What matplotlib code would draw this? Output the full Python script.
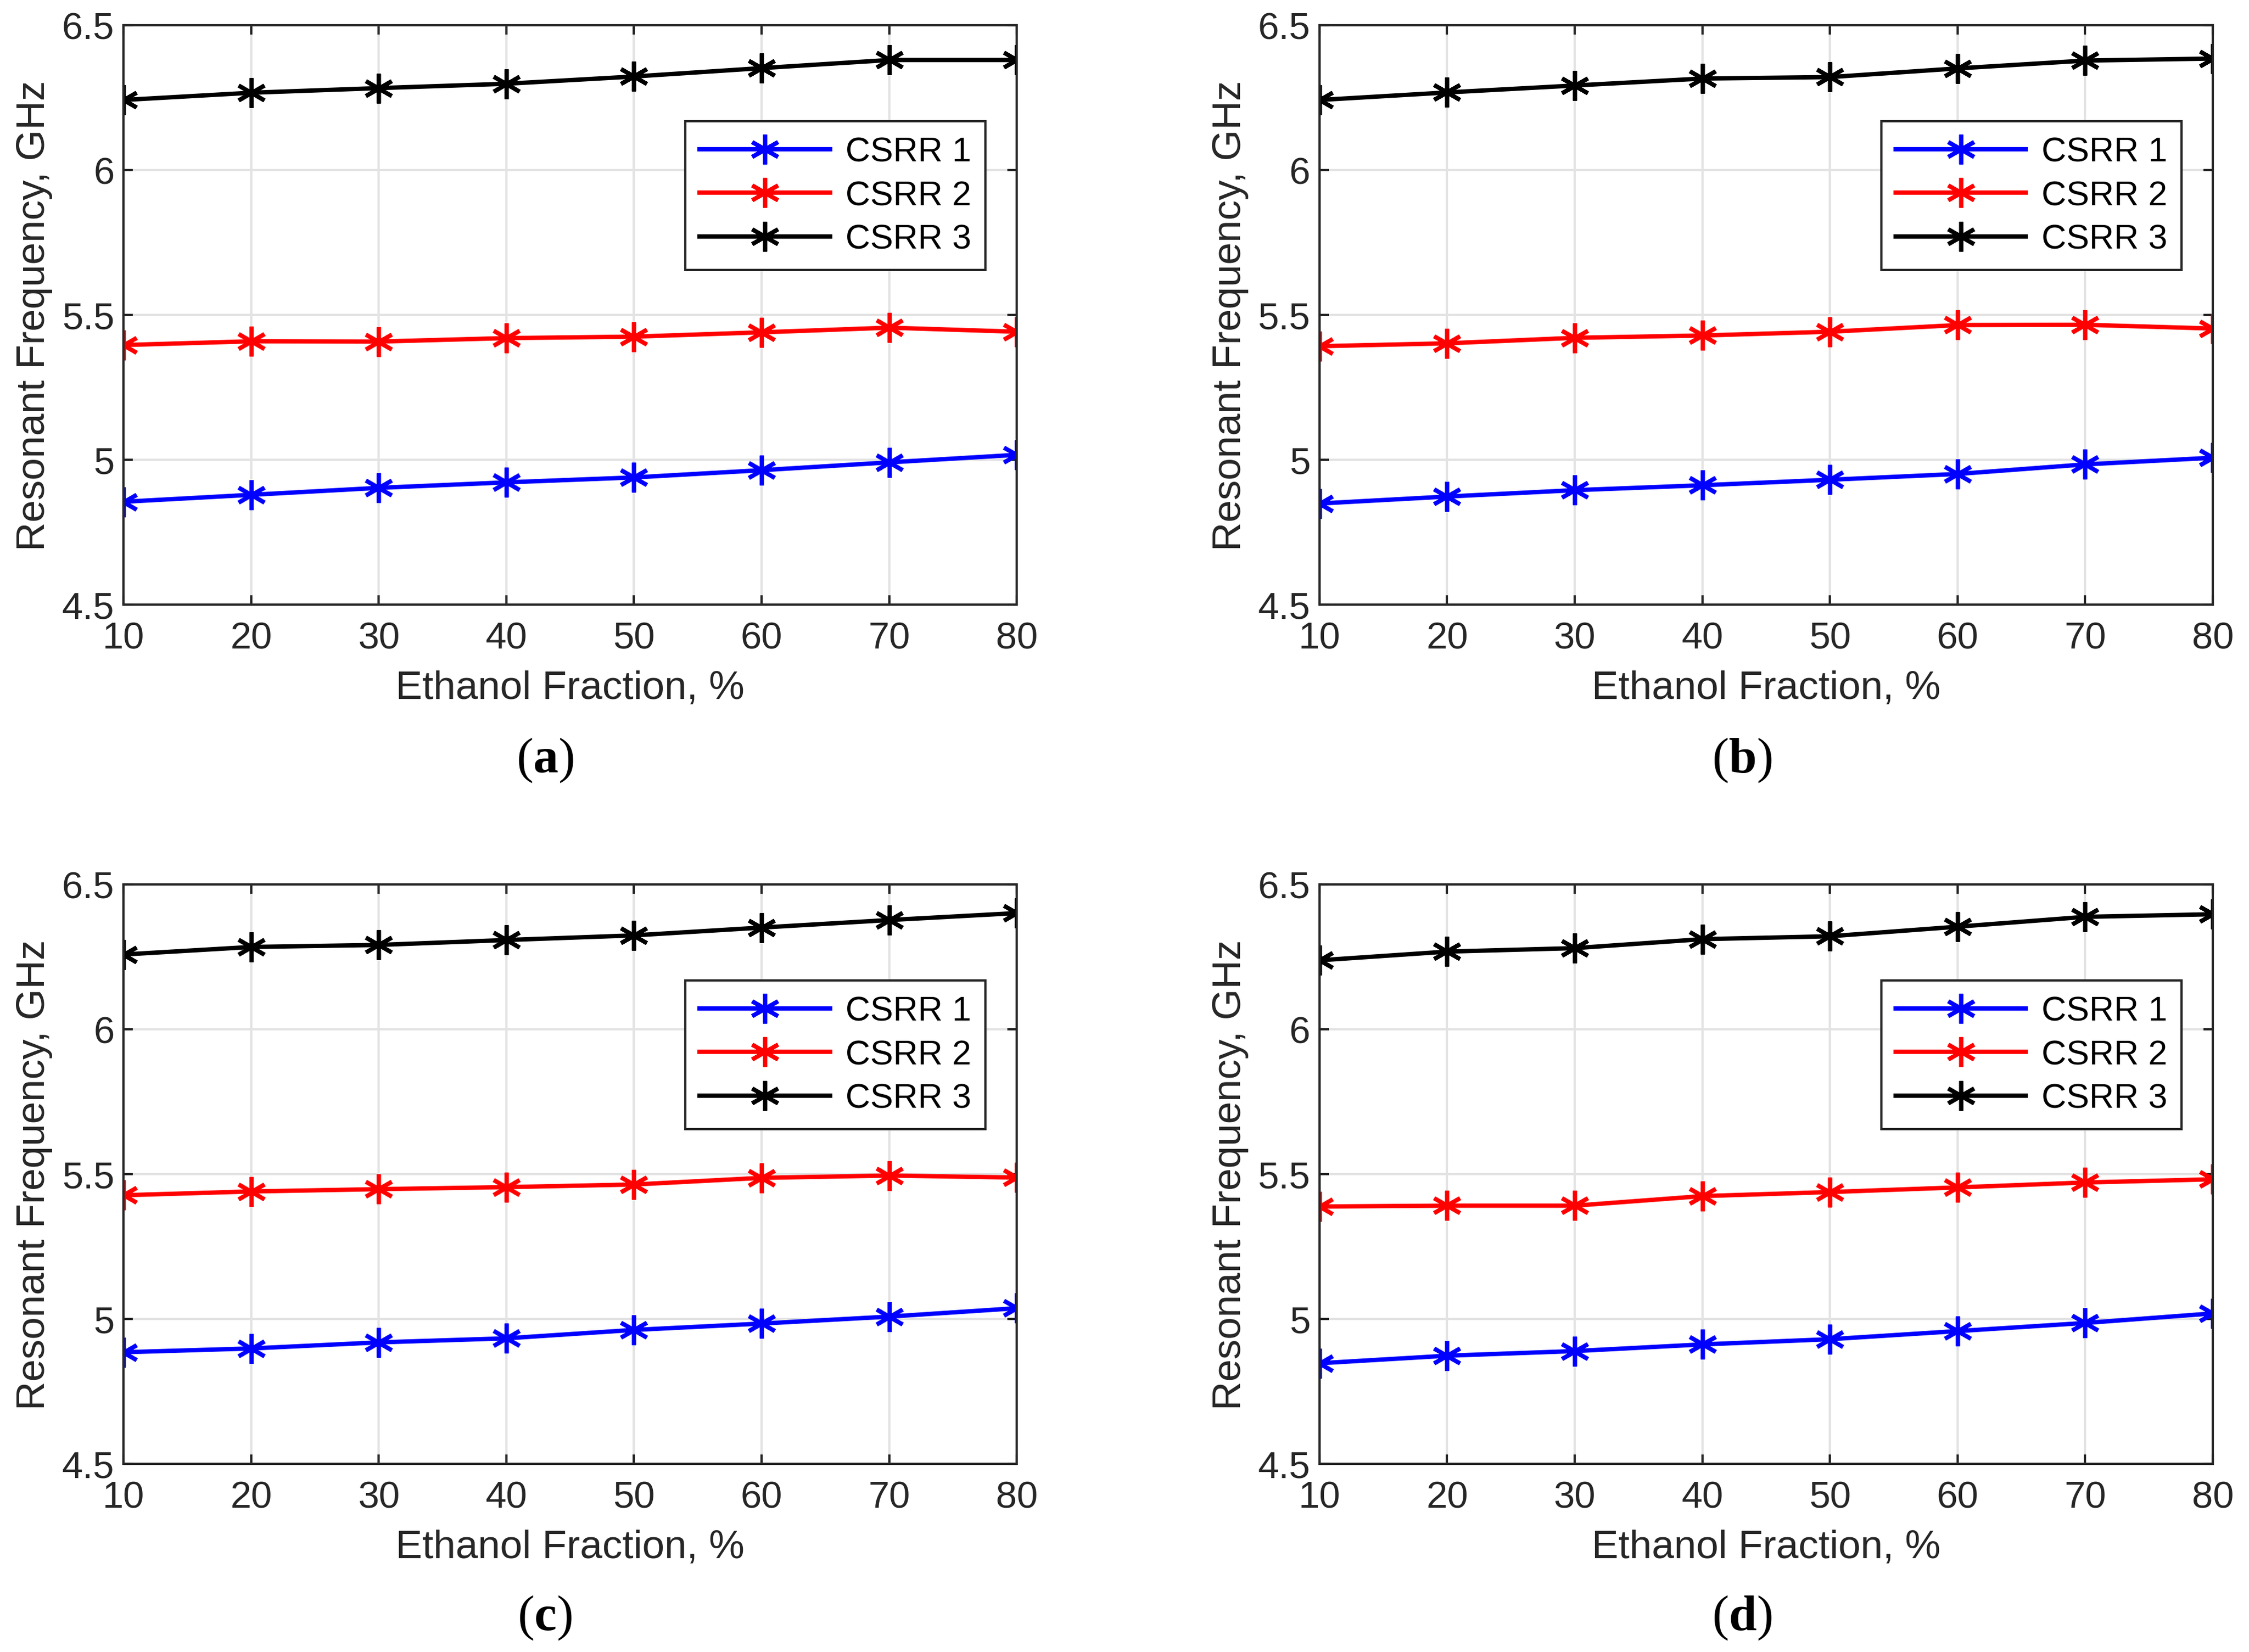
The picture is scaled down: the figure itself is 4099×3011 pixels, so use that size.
#!/usr/bin/env python3
"""Resonant frequency of three CSRRs vs. ethanol fraction, four panels (a)-(d)."""

import matplotlib
matplotlib.use("Agg")
import matplotlib.pyplot as plt

# ethanol fraction, %
FRACTION = [10, 20, 30, 40, 50, 60, 70, 80]

# resonant frequency, GHz
A_CSRR1 = [4.855, 4.879, 4.903, 4.922, 4.939, 4.964, 4.991, 5.017]
A_CSRR2 = [5.396, 5.409, 5.408, 5.420, 5.425, 5.440, 5.456, 5.442]
A_CSRR3 = [6.242, 6.267, 6.283, 6.298, 6.323, 6.352, 6.380, 6.380]

B_CSRR1 = [4.849, 4.873, 4.895, 4.912, 4.931, 4.951, 4.984, 5.007]
B_CSRR2 = [5.392, 5.402, 5.421, 5.429, 5.442, 5.465, 5.466, 5.453]
B_CSRR3 = [6.242, 6.268, 6.292, 6.316, 6.321, 6.351, 6.378, 6.385]

C_CSRR1 = [4.885, 4.898, 4.919, 4.933, 4.962, 4.984, 5.008, 5.037]
C_CSRR2 = [5.427, 5.440, 5.448, 5.455, 5.464, 5.487, 5.495, 5.488]
C_CSRR3 = [6.258, 6.284, 6.291, 6.308, 6.324, 6.351, 6.377, 6.401]

D_CSRR1 = [4.847, 4.873, 4.889, 4.912, 4.930, 4.958, 4.986, 5.019]
D_CSRR2 = [5.388, 5.391, 5.391, 5.424, 5.438, 5.454, 5.471, 5.482]
D_CSRR3 = [6.238, 6.268, 6.280, 6.311, 6.321, 6.354, 6.388, 6.397]

SERIES_NAMES = ["CSRR 1", "CSRR 2", "CSRR 3"]
PANEL_TAGS = ["a", "b", "c", "d"]
YTICKS = [4.5, 5.0, 5.5, 6.0, 6.5]
YTICK_LABELS = ["4.5", "5", "5.5", "6", "6.5"]

PANELS = [
    (A_CSRR1, A_CSRR2, A_CSRR3),
    (B_CSRR1, B_CSRR2, B_CSRR3),
    (C_CSRR1, C_CSRR2, C_CSRR3),
    (D_CSRR1, D_CSRR2, D_CSRR3),
]

COLORS = ["#0000ff", "#ff0000", "#000000"]
AX_COLOR = "#262626"

plt.rcParams["font.family"] = ["Liberation Sans", "DejaVu Sans"]
plt.rcParams["mathtext.fontset"] = "custom"
plt.rcParams["mathtext.rm"] = "Liberation Serif"
plt.rcParams["mathtext.bf"] = "Liberation Serif:bold"

fig = plt.figure(figsize=(4099 / 300, 3012 / 300), dpi=300)

# axes boxes in figure fractions
lefts = [0.0549, 0.5867, 0.0549, 0.5867]
bottoms = [0.6338, 0.6338, 0.1139, 0.1139]
width, height = 0.3972, 0.3506
tag_x = [0.2423, 0.7745, 0.2423, 0.7745]
tag_y = [0.540, 0.540, 0.021, 0.021]

asterisk = (6, 2, 0)

for i, series in enumerate(PANELS):
    ax = fig.add_axes([lefts[i], bottoms[i], width, height])
    for vals, name, col in zip(series, SERIES_NAMES, COLORS):
        ax.plot(FRACTION, vals, color=col, linewidth=1.9, marker=asterisk,
                markersize=13, markeredgewidth=1.8, label=name)

    ax.set_xlim(10, 80)
    ax.set_ylim(4.5, 6.5)
    ax.set_xticks(FRACTION)
    ax.set_yticks(YTICKS)
    ax.set_yticklabels(YTICK_LABELS)
    ax.grid(True, color="#e3e3e3", linewidth=1.0)
    ax.set_axisbelow(True)
    for sp in ax.spines.values():
        sp.set_color(AX_COLOR)
        sp.set_linewidth(1.0)
    ax.tick_params(direction="in", length=4, width=1.0, colors=AX_COLOR,
                   labelsize=16.5, top=True, right=True)
    ax.tick_params(axis="x", pad=7)
    ax.tick_params(axis="y", pad=4)
    ax.set_xlabel("Ethanol Fraction, %", fontsize=17.5, color=AX_COLOR, labelpad=6)
    ax.set_ylabel("Resonant Frequency, GHz", fontsize=17.5, color=AX_COLOR, labelpad=4)

    leg = ax.legend(loc="upper right", bbox_to_anchor=(0.965, 0.834),
                    borderaxespad=0, fontsize=15, fancybox=False, framealpha=1,
                    edgecolor=AX_COLOR, handlelength=3.8, handletextpad=0.45,
                    labelspacing=0.33, borderpad=0.42)
    leg.get_frame().set_linewidth(1.0)

    fig.text(tag_x[i], tag_y[i], "($\\mathbf{%s}$)" % PANEL_TAGS[i],
             ha="center", va="center", fontsize=22, family="Liberation Serif")

fig.savefig("out.png", dpi=300)
